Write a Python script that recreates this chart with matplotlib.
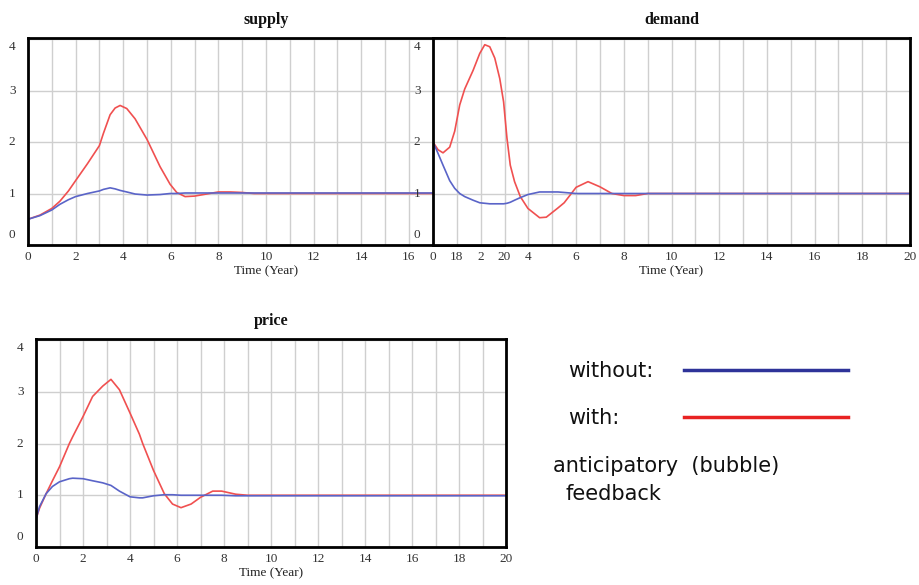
import matplotlib
matplotlib.use("Agg")
import matplotlib.pyplot as plt
from matplotlib.lines import Line2D

# ---------------- data ----------------
supply_time = [0, 0.5, 1, 1.34, 1.7, 2, 2.5, 3, 3.17, 3.45, 3.66, 3.87, 4.15, 4.5, 5, 5.55, 5.97,
               6.25, 6.6, 7, 7.5, 8, 8.5, 9, 9.5, 10, 11, 12, 13, 14, 15, 16, 17, 18, 19, 20]
supply_with = [0.50, 0.58, 0.71, 0.85, 1.05, 1.25, 1.58, 1.93, 2.17, 2.53, 2.66, 2.71, 2.65, 2.45,
               2.05, 1.52, 1.18, 1.02, 0.94, 0.95, 0.99, 1.03, 1.03, 1.02, 1.00, 1.00, 1.00, 1.00,
               1.00, 1.00, 1.00, 1.00, 1.00, 1.00, 1.00, 1.00]
supply_without = [0.50, 0.57, 0.68, 0.79, 0.88, 0.94, 1.00, 1.05, 1.08, 1.11, 1.09, 1.06, 1.03,
                  0.99, 0.97, 0.98, 1.00, 1.00, 1.01, 1.01, 1.01, 1.01, 1.01, 1.01, 1.01, 1.01,
                  1.01, 1.01, 1.01, 1.01, 1.01, 1.01, 1.01, 1.01, 1.01, 1.01]

demand_time = [0, 0.21, 0.42, 0.7, 0.91, 1.12, 1.33, 1.68, 1.96, 2.17, 2.38, 2.59, 2.8, 2.96, 3.1,
               3.24, 3.42, 3.66, 3.98, 4.47, 4.75, 5.24, 5.5, 6.0, 6.5, 7.0, 7.5, 8.0, 8.5, 9,
               10, 11, 12, 13, 14, 15, 16, 17, 18, 19, 20]
demand_with = [2.00, 1.85, 1.79, 1.90, 2.21, 2.72, 3.03, 3.39, 3.72, 3.89, 3.85, 3.63, 3.23, 2.78,
               2.08, 1.55, 1.23, 0.94, 0.71, 0.53, 0.54, 0.72, 0.82, 1.12, 1.23, 1.13, 1.00, 0.96,
               0.96, 1.00, 1.00, 1.00, 1.00, 1.00, 1.00, 1.00, 1.00, 1.00, 1.00, 1.00, 1.00]
demand_without = [2.00, 1.78, 1.55, 1.25, 1.10, 1.00, 0.94, 0.87, 0.82, 0.81, 0.80, 0.80, 0.80,
                  0.80, 0.81, 0.83, 0.87, 0.92, 0.98, 1.03, 1.03, 1.03, 1.02, 1.00, 1.00, 1.00,
                  1.00, 1.00, 1.00, 1.00, 1.00, 1.00, 1.00, 1.00, 1.00, 1.00, 1.00, 1.00, 1.00,
                  1.00, 1.00]

price_time = [0, 0.15, 0.43, 0.7, 1, 1.42, 1.56, 2, 2.41, 2.84, 3.19, 3.55, 4, 4.4, 4.54, 5, 5.46,
              5.81, 6.17, 6.6, 7, 7.52, 7.9, 8.5, 9, 10, 11, 12, 13, 14, 15, 16, 17, 18, 19, 20]
price_with = [0.54, 0.75, 1.03, 1.28, 1.55, 2.00, 2.13, 2.52, 2.91, 3.11, 3.24, 3.04, 2.59, 2.18,
              2.00, 1.48, 1.03, 0.83, 0.76, 0.83, 0.96, 1.08, 1.08, 1.02, 1.00, 1.00, 1.00, 1.00,
              1.00, 1.00, 1.00, 1.00, 1.00, 1.00, 1.00, 1.00]
price_without = [0.54, 0.78, 1.03, 1.17, 1.26, 1.32, 1.33, 1.32, 1.28, 1.24, 1.19, 1.08, 0.97,
                 0.95, 0.95, 0.99, 1.01, 1.01, 1.00, 1.00, 1.00, 1.00, 1.00, 0.99, 0.99, 0.99,
                 0.99, 0.99, 0.99, 0.99, 0.99, 0.99, 0.99, 0.99, 0.99, 0.99]

x_ticks = [0, 2, 4, 6, 8, 10, 12, 14, 16, 18, 20]
y_ticks = [0, 1, 2, 3, 4]
legend_labels = ["without:", "with:"]
note_lines = ["anticipatory  (bubble)", "feedback"]

# ---------------- style ----------------
RED = "#f05050"
BLUE = "#5a64c8"
GRID = "#cfcfcf"
SERIF = ["Liberation Serif", "DejaVu Serif"]
W, H = 919, 585

fig = plt.figure(figsize=(W / 100, H / 100), dpi=100)


def rect(left, top, right, bottom):
    return [left / W, 1 - bottom / H, (right - left) / W, (bottom - top) / H]


def style(ax, title):
    ax.set_xlim(0, 20)
    ax.set_ylim(0, 4.02)
    ax.set_xticks(x_ticks)
    ax.set_xticks(range(0, 21), minor=True)
    ax.set_yticks(y_ticks)
    ax.set_yticklabels([])
    ax.grid(True, which="both", axis="x", color=GRID, lw=1.0)
    ax.grid(True, which="major", axis="y", color=GRID, lw=1.0)
    ax.set_axisbelow(True)
    ax.tick_params(which="both", length=0)
    ax.tick_params(axis="x", pad=4, labelsize=9.5, labelcolor="#333333")
    for lab in ax.get_xticklabels():
        lab.set_fontfamily(SERIF)
    for s in ax.spines.values():
        s.set_color("black")
        s.set_linewidth(2.0)
    ax.set_xlabel("Time (Year)", fontsize=9.5, family=SERIF, labelpad=2, color="#222222")
    ax.set_title(title, fontsize=11.5, family=SERIF, fontweight="bold", pad=10, color="#111111")
    for v in y_ticks:
        dy = 0
        if v == 0:
            dy = 7
        elif v == 4:
            dy = -6
        ax.annotate(str(v), xy=(0, v), xycoords=("axes fraction", "data"),
                    xytext=(-9, dy), textcoords="offset points", ha="right", va="center",
                    fontsize=9.5, family=SERIF, color="#333333")


def draw(ax, t, with_vals, without_vals):
    ax.plot(t, with_vals, color=RED, lw=1.2, solid_joinstyle="round")
    ax.plot(t, without_vals, color=BLUE, lw=1.2, solid_joinstyle="round")


# supply (partly hidden beneath the demand panel)
ax_s = fig.add_axes(rect(28, 38, 504, 245))
ax_s.set_zorder(1)
style(ax_s, "supply")
draw(ax_s, supply_time, supply_with, supply_without)

# demand
ax_d = fig.add_axes(rect(433, 38, 910, 245))
ax_d.set_zorder(2)
ax_d.set_facecolor("white")
style(ax_d, "demand")
draw(ax_d, demand_time, demand_with, demand_without)

# price
ax_p = fig.add_axes(rect(36, 339, 506, 547))
style(ax_p, "price")
draw(ax_p, price_time, price_with, price_without)

# legend / annotation
SANS = ["DejaVu Sans"]
fig.text(568 / W, 1 - 371 / H, legend_labels[0], fontsize=15, family=SANS, va="center", ha="left",
         color="#111111")
fig.text(568 / W, 1 - 418 / H, legend_labels[1], fontsize=15, family=SANS, va="center", ha="left",
         color="#111111")
fig.add_artist(Line2D([684 / W, 848 / W], [1 - 370 / H, 1 - 370 / H], color="#2e3399", lw=2.5))
fig.add_artist(Line2D([684 / W, 848 / W], [1 - 417 / H, 1 - 417 / H], color="#e82222", lw=2.5))
fig.text(553 / W, 1 - 466 / H, note_lines[0], fontsize=15, family=SANS, va="center", ha="left",
         color="#111111")
fig.text(566 / W, 1 - 494 / H, note_lines[1], fontsize=15, family=SANS, va="center", ha="left",
         color="#111111")

fig.savefig("out.png", dpi=100, facecolor="white")
